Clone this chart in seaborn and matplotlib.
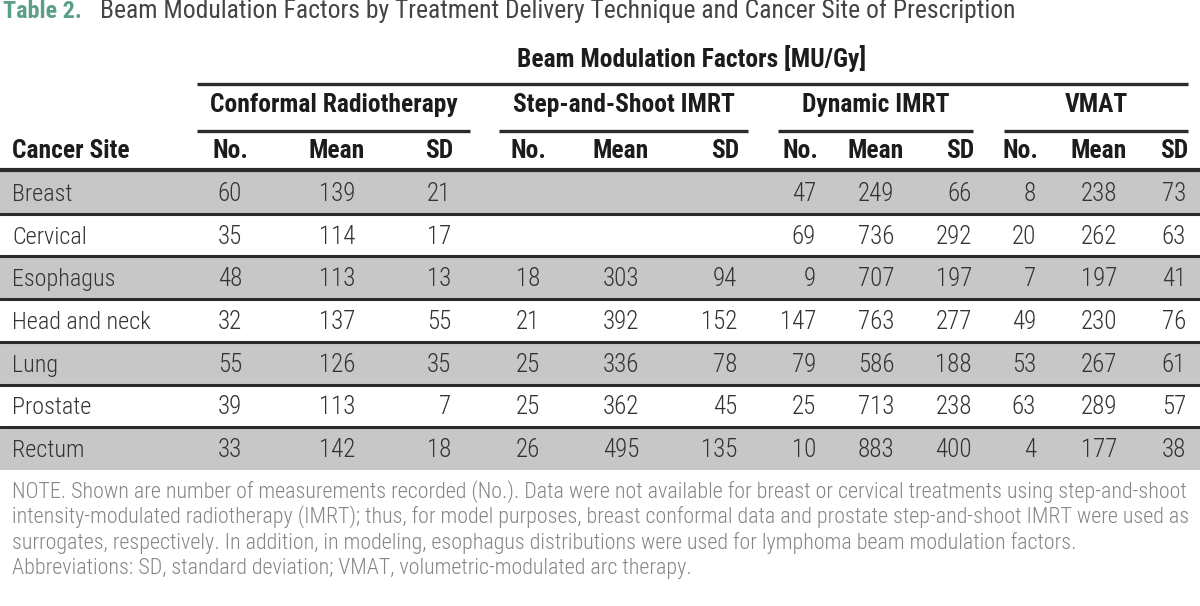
import matplotlib
matplotlib.use("Agg")
import matplotlib.pyplot as plt
from matplotlib.colors import ListedColormap
import seaborn as sns
import numpy as np

# Dados da tabela
sites = ["Breast", "Cervical", "Esophagus", "Head and neck", "Lung", "Prostate", "Rectum"]
techniques = ["Conformal Radiotherapy", "Step-and-Shoot IMRT", "Dynamic IMRT", "VMAT"]
conf_no = [60, 35, 48, 32, 55, 39, 33]
conf_mean = [139, 114, 113, 137, 126, 113, 142]
conf_sd = [21, 17, 13, 55, 35, 7, 18]
step_no = [None, None, 18, 21, 25, 25, 26]
step_mean = [None, None, 303, 392, 336, 362, 495]
step_sd = [None, None, 94, 152, 78, 45, 135]
dyn_no = [47, 69, 9, 147, 79, 25, 10]
dyn_mean = [249, 736, 707, 763, 586, 713, 883]
dyn_sd = [66, 292, 197, 277, 188, 238, 400]
vmat_no = [8, 20, 7, 49, 53, 63, 4]
vmat_mean = [238, 262, 197, 230, 267, 289, 177]
vmat_sd = [73, 63, 41, 76, 61, 57, 38]
sub_labels = ["No.", "Mean", "SD"]

title_lead = "Table 2."
title_text = "Beam Modulation Factors by Treatment Delivery Technique and Cancer Site of Prescription"
super_header = "Beam Modulation Factors [MU/Gy]"
first_col = "Cancer Site"
note_lines = [
    "NOTE. Shown are number of measurements recorded (No.). Data were not available for breast or cervical treatments using step-and-shoot",
    "intensity-modulated radiotherapy (IMRT); thus, for model purposes, breast conformal data and prostate step-and-shoot IMRT were used as",
    "surrogates, respectively. In addition, in modeling, esophagus distributions were used for lymphoma beam modulation factors.",
    "Abbreviations: SD, standard deviation; VMAT, volumetric-modulated arc therapy.",
]

# Estilo
sns.set_theme(style="white")
FONT = ['Roboto Condensed', 'DejaVu Sans']
plt.rcParams['font.family'] = FONT

W, H = 1200, 606
BODY_TOP, BODY_BOT = 171, 470
GRAY = "#c7c7c7"
HEAD = "#1c1c1c"
BODY = "#333333"
LINE = "#2b2b2b"

fig = plt.figure(figsize=(W / 100, H / 100), dpi=100)
renderer = fig.canvas.get_renderer()


def fit_size(text, width, weight="normal", base=20):
    """Tamanho de fonte para que o texto ocupe a largura indicada (px)."""
    t = fig.text(0, 0, text, fontsize=base, fontweight=weight)
    w = t.get_window_extent(renderer).width
    t.remove()
    return base * width / w


# Faixas das linhas (heatmap)
band_ax = fig.add_axes([0, 1 - BODY_BOT / H, 1, (BODY_BOT - BODY_TOP) / H])
bands = np.array([[1 - (i % 2)] for i in range(len(sites))])
sns.heatmap(bands, cmap=ListedColormap(["white", GRAY]), cbar=False,
            xticklabels=False, yticklabels=False, ax=band_ax)
for k in range(1, len(sites)):
    band_ax.axhline(k, color=LINE, lw=2.2)
band_ax.axis("off")

ax = fig.add_axes([0, 0, 1, 1], zorder=2)
ax.set_xlim(0, W)
ax.set_ylim(H, 0)
ax.axis("off")
ax.patch.set_alpha(0)

# Título
ax.text(3, 18, title_lead, fontsize=fit_size(title_lead, 79, weight="bold"),
        fontweight="bold", color="#5b9f8a", va="baseline", ha="left")
ax.text(100, 18, title_text, fontsize=fit_size(title_text, 915), color="#444444",
        va="baseline", ha="left")

# Cabeçalhos
head_fs = fit_size(first_col, 117, weight="bold")
ax.text(692, 67, super_header, fontsize=head_fs, fontweight="bold", color=HEAD,
        ha="center", va="baseline")
ax.plot([197, 1188], [84, 84], color=LINE, lw=2.4, solid_capstyle="butt")

group_spans = [(197, 470), (499, 748), (778, 973), (1004, 1188)]
for name, (x0, x1) in zip(techniques, group_spans):
    ax.text((x0 + x1) / 2, 112, name, fontsize=head_fs, fontweight="bold", color=HEAD,
            ha="center", va="baseline")
    ax.plot([x0, x1], [131, 131], color=LINE, lw=2.4, solid_capstyle="butt")

# posição e alinhamento de cada coluna (cabeçalho e valores)
col_x = [230, 337, 451, 528, 621, 737, 816, 876, 972, 1036, 1099, 1186]
col_ha = ["center", "center", "right", "center", "center", "right",
          "right", "center", "right", "right", "center", "right"]
ax.text(12, 158, first_col, fontsize=head_fs, fontweight="bold", color=HEAD,
        ha="left", va="baseline")
for i, (x, ha) in enumerate(zip(col_x, col_ha)):
    ax.text(x + (2 if ha == "right" else 0), 158, sub_labels[i % 3], fontsize=head_fs,
            fontweight="bold", color=HEAD, ha=ha, va="baseline")
ax.plot([0, W], [169.5, 169.5], color=LINE, lw=3.0, solid_capstyle="butt")

# Corpo
columns = [conf_no, conf_mean, conf_sd, step_no, step_mean, step_sd,
           dyn_no, dyn_mean, dyn_sd, vmat_no, vmat_mean, vmat_sd]
body_fs = fit_size("Head and neck", 138, weight="light")
row_h = (BODY_BOT - BODY_TOP) / len(sites)
for r, site in enumerate(sites):
    y = BODY_TOP + (r + 0.5) * row_h + 8.5
    ax.text(12, y, site, fontsize=body_fs, fontweight="light", color=BODY,
            ha="left", va="baseline")
    for col, x, ha in zip(columns, col_x, col_ha):
        v = col[r]
        if v is not None:
            ax.text(x, y, str(v), fontsize=body_fs * 1.04, fontweight="light", color=BODY,
                    ha=ha, va="baseline")

# Notas
note_fs = fit_size(note_lines[0], 1175, weight="light")
for i, line in enumerate(note_lines):
    ax.text(12, 498 + i * 25.3, line, fontsize=note_fs, fontweight="light",
            color="#858585", ha="left", va="baseline")

fig.savefig("out.png", dpi=100)
